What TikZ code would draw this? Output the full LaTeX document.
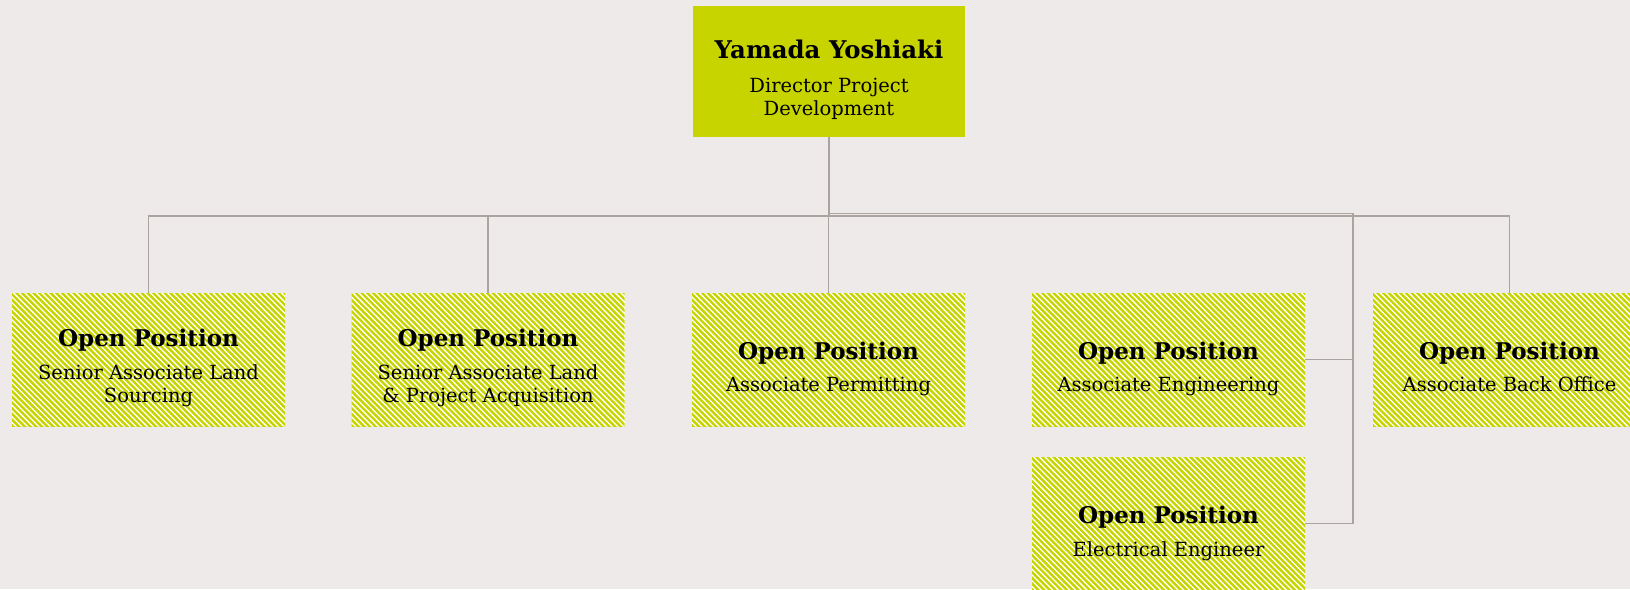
\documentclass[tikz,border=0pt]{standalone}
\usepackage{fontspec}
\setmainfont{DejaVu Serif}
\definecolor{bg}{HTML}{EEEAE9}
\definecolor{lime}{HTML}{C8D400}
\definecolor{conn}{HTML}{ABA39F}
\tikzset{
  x=1pt, y=-1pt,
  solidbox/.style={fill=lime, draw=none, minimum width=272pt, minimum height=131pt, inner sep=0pt},
  hatchbox/.style={fill=white, draw=none, minimum width=273pt, minimum height=133pt, inner sep=0pt,
    path picture={\foreach \i in {-140,-134.3,...,285} {\draw[lime, line width=2.4pt] ([xshift=\i pt, yshift=2pt]path picture bounding box.north west) -- ++(150pt,-150pt);}}},
  hd/.style={anchor=base, inner sep=0pt, font=\fontsize{23}{27}\selectfont\bfseries},
  tophd/.style={hd, font=\fontsize{24.4}{28}\selectfont\bfseries},
  sb/.style={anchor=base, inner sep=0pt, font=\fontsize{19.5}{23}\selectfont},
  wire/.style={draw=conn, line width=1.8pt}
}
\begin{document}
\begin{tikzpicture}
\fill[bg] (0,0) rectangle (1630,589);
\useasboundingbox (0,0) rectangle (1630,589);
\clip (0,0) rectangle (1630,589);
% boxes
\node[solidbox] (top) at (829,71.5) {};
\node[hatchbox] (b1) at (148.5,359.5) {};
\node[hatchbox] (b2) at (488,359.5) {};
\node[hatchbox] (b3) at (828.5,359.5) {};
\node[hatchbox] (b4) at (1168.5,359.5) {};
\node[hatchbox] (b5) at (1509.5,359.5) {};
\node[hatchbox] (b6) at (1168.5,523.5) {};
% connectors
\coordinate (bus) at (829,216);
\coordinate (ej) at (829,213.5);
\coordinate (ec) at (1353,213.5);
\draw[wire] (top.south) -- (bus);
\draw[wire] (b1.north) |- (bus) -| (b5.north);
\draw[wire] (b2.north) -- (b2.north |- bus);
\draw[wire] (b3.north) -- (b3.north |- bus);
\draw[wire] (ej) -- (ec) |- (b4.east);
\draw[wire] (ec) |- (b6.east);
% texts
\node[tophd] (toph) at (829,58) {Yamada Yoshiaki};
\node[sb] (tops1) at (829,92) {Director Project};
\node[sb] (tops2) at (829,115) {Development};
\node[hd] (b1h) at (148.5,346) {Open Position};
\node[sb] (b1s1) at (148.5,379) {Senior Associate Land};
\node[sb] (b1s2) at (148.5,402) {Sourcing};
\node[hd] (b2h) at (488,346) {Open Position};
\node[sb] (b2s1) at (488,379) {Senior Associate Land};
\node[sb] (b2s2) at (488,402) {\& Project Acquisition};
\node[hd] (b3h) at (828.5,359) {Open Position};
\node[sb] (b3s) at (828.5,391) {Associate Permitting};
\node[hd] (b4h) at (1168.5,359) {Open Position};
\node[sb] (b4s) at (1168.5,391) {Associate Engineering};
\node[hd] (b5h) at (1509.5,359) {Open Position};
\node[sb] (b5s) at (1509.5,391) {Associate Back Office};
\node[hd] (b6h) at (1168.5,523) {Open Position};
\node[sb] (b6s) at (1168.5,556) {Electrical Engineer};
\end{tikzpicture}
\end{document}
